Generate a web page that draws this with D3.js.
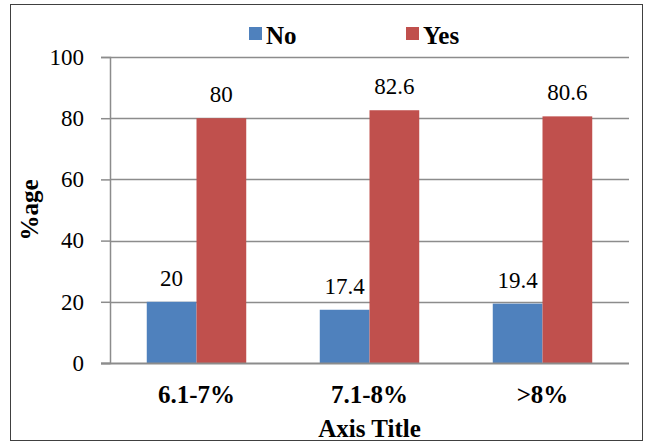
<!DOCTYPE html>
<html>
<head>
<meta charset="utf-8">
<script src="https://cdn.jsdelivr.net/npm/d3@7"></script>
<style>
  html, body { margin: 0; padding: 0; background: #fff; }
  svg { display: block; }
</style>
</head>
<body>
<svg id="chart" width="649" height="447"></svg>
<script>
// Chart data
const categories = ["6.1-7%", "7.1-8%", ">8%"];
const seriesNames = ["No", "Yes"];
const noValues = [20, 17.4, 19.4];
const yesValues = [80, 82.6, 80.6];
const yTicks = [0, 20, 40, 60, 80, 100];
const yTitle = "%age";
const xTitle = "Axis Title";

const colors = { No: "#4F81BD", Yes: "#C0504D" };
const seriesValues = { No: noValues, Yes: yesValues };
const FONT = "'Liberation Serif', 'Times New Roman', serif";

const svg = d3.select("#chart")
  .attr("font-family", FONT);

// Outer chart frame
svg.append("rect")
  .attr("x", 10.5).attr("y", 4.5)
  .attr("width", 632).attr("height", 436)
  .attr("fill", "#fff").attr("stroke", "#404040").attr("stroke-width", 1);

const plot = { left: 110, right: 629, top: 57, bottom: 363 };

const y = d3.scaleLinear().domain([0, 100]).range([plot.bottom, plot.top]);
const x0 = d3.scaleBand().domain(categories).range([plot.left, plot.right]).paddingInner(0.425).paddingOuter(0.2125);
const x1 = d3.scaleBand().domain(seriesNames).range([0, x0.bandwidth()]);

// Gridlines
svg.append("g")
  .selectAll("line")
  .data(yTicks.filter(t => t > 0))
  .join("line")
  .attr("x1", plot.left).attr("x2", plot.right)
  .attr("y1", d => Math.round(y(d)) + 0.5).attr("y2", d => Math.round(y(d)) + 0.5)
  .attr("stroke", "#8c8c8c").attr("stroke-width", 1.5);

// Y axis
const yAxis = d3.axisLeft(y).tickValues(yTicks).tickSize(9).tickPadding(17).tickFormat(d3.format("d"));
const gy = svg.append("g").attr("transform", `translate(${plot.left},0)`).call(yAxis)
  .attr("font-family", FONT).attr("font-size", 23);
gy.select(".domain").attr("stroke", "#8c8c8c").attr("stroke-width", 1.5);
gy.selectAll(".tick line").attr("stroke", "#8c8c8c").attr("stroke-width", 1.5);
gy.selectAll(".tick text").attr("fill", "#000");

// Bars
const groups = svg.append("g")
  .selectAll("g")
  .data(categories)
  .join("g")
  .attr("transform", d => `translate(${x0(d)},0)`);

groups.selectAll("rect")
  .data((c, i) => seriesNames.map(s => ({ s, v: seriesValues[s][i] })))
  .join("rect")
  .attr("x", d => x1(d.s))
  .attr("y", d => y(d.v))
  .attr("width", x1.bandwidth())
  .attr("height", d => y(0) - y(d.v))
  .attr("fill", d => colors[d.s]);

// Value labels
groups.selectAll("text.val")
  .data((c, i) => seriesNames.map(s => ({ s, v: seriesValues[s][i] })))
  .join("text")
  .attr("class", "val")
  .attr("x", d => x1(d.s) + x1.bandwidth() / 2)
  .attr("y", d => y(d.v) - 16)
  .attr("text-anchor", "middle")
  .attr("font-size", 23)
  .text(d => d.v);

// X axis category labels
const xAxis = d3.axisBottom(x0).tickSize(0).tickPadding(0);
const gx = svg.append("g").attr("transform", `translate(0,${plot.bottom})`).call(xAxis)
  .attr("font-family", FONT).attr("font-size", 25).attr("font-weight", "bold");
gx.select(".domain").remove();
gx.selectAll(".tick text")
  .attr("dy", null)
  .attr("y", 40)
  .attr("fill", "#000");

// X axis baseline
svg.append("line")
  .attr("x1", plot.left - 9).attr("x2", plot.right)
  .attr("y1", plot.bottom + 0.5).attr("y2", plot.bottom + 0.5)
  .attr("stroke", "#8c8c8c").attr("stroke-width", 2);

// Axis titles
svg.append("text")
  .attr("x", (plot.left + plot.right) / 2).attr("y", 437)
  .attr("text-anchor", "middle")
  .attr("font-size", 25).attr("font-weight", "bold")
  .text(xTitle);

svg.append("text")
  .attr("transform", `translate(38,${(plot.top + plot.bottom) / 2}) rotate(-90)`)
  .attr("text-anchor", "middle")
  .attr("font-size", 25).attr("font-weight", "bold")
  .text(yTitle);

// Legend
const legendItems = [
  { name: "No", x: 249 },
  { name: "Yes", x: 406 }
];
const lg = svg.append("g").selectAll("g").data(legendItems).join("g")
  .attr("transform", d => `translate(${d.x},27)`);
lg.append("rect").attr("width", 13).attr("height", 13).attr("fill", d => colors[d.name]);
lg.append("text").attr("x", 17).attr("y", 17)
  .attr("font-size", 25).attr("font-weight", "bold")
  .text(d => d.name);
</script>
</body>
</html>
